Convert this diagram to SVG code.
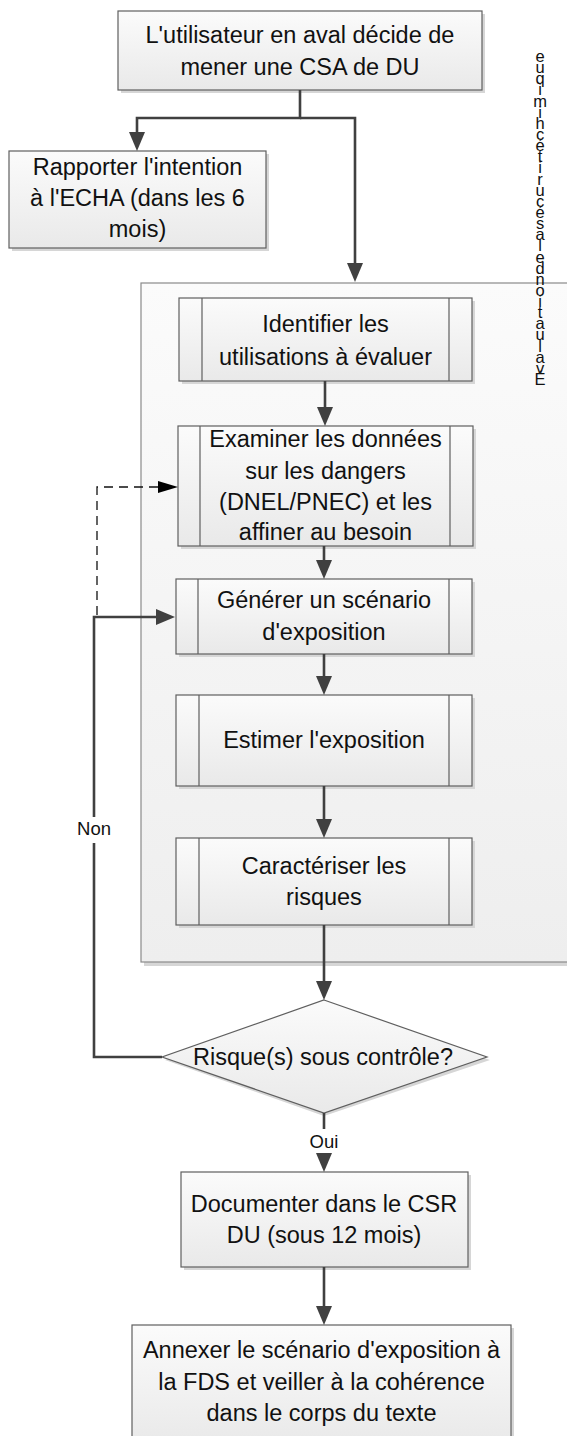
<svg xmlns="http://www.w3.org/2000/svg" width="567" height="1436" viewBox="0 0 567 1436">
<style>
.box{stroke:#5f5f5f;stroke-width:1.2;fill:url(#g)}
.sh{fill:#d6d6d6}
.inner{stroke:#5f5f5f;stroke-width:1.2;fill:none}
.t{font-family:"Liberation Sans",Arial,sans-serif;font-size:23.5px;fill:#111;text-anchor:middle}
.lbl{font-family:"Liberation Sans",Arial,sans-serif;font-size:18.5px;fill:#111;text-anchor:middle}
.vt{font-family:"Liberation Sans",Arial,sans-serif;font-size:16.5px;fill:#111;text-anchor:middle}
.c{fill:none;stroke:#404040;stroke-width:2.6}
.d{fill:none;stroke:#111;stroke-width:1.3;stroke-dasharray:9 6}
</style>
<defs>
<linearGradient id="g" x1="0" y1="0" x2="0" y2="1">
<stop offset="0" stop-color="#fbfbfb"/>
<stop offset="1" stop-color="#e9e9e9"/>
</linearGradient>
<linearGradient id="gc" x1="0" y1="0" x2="0" y2="1">
<stop offset="0" stop-color="#fbfbfb"/>
<stop offset="1" stop-color="#eeeeee"/>
</linearGradient>
<marker id="ah" viewBox="0 0 19 16" refX="9" refY="8" markerWidth="19" markerHeight="16" orient="auto" markerUnits="userSpaceOnUse">
<path d="M0,0 L19,8 L0,16 z" fill="#404040"/>
</marker>
<marker id="ahd" viewBox="0 0 20 12" refX="10" refY="6" markerWidth="20" markerHeight="12" orient="auto" markerUnits="userSpaceOnUse">
<path d="M0,0 L20,6 L0,12 z" fill="#000"/>
</marker>
</defs>
<rect width="567" height="1436" fill="#fff"/>

<g id="container">
<rect x="144" y="286" width="440" height="680" class="sh" fill="#dcdcdc"/>
<rect x="141" y="283" width="440" height="679" fill="url(#gc)" stroke="#8a8a8a" stroke-width="1.2"/>
<text class="vt" x="540 540 540 540 540 540 540 540 540 540 540 540 540 540 540 540 540 540 540 540 540 540 540 540 540 540 540 540 540 540 540 540 540 540" y="385 373.9 362.7 351.6 340.4 329.3 318.2 307 295.9 284.7 284.7 273.6 262.5 262.5 251.3 240.2 240.2 229 217.9 206.8 195.6 184.5 173.3 162.2 151.1 151.1 139.9 128.8 117.6 106.5 95.4 84.2 73.1 61.9">Évaluation de la sécurité chimique</text>
</g>

<g id="n-start">
<rect x="121" y="14" width="364" height="79" class="sh"/>
<rect x="118" y="11" width="364" height="79" class="box"/>
<text class="t" x="300" y="42.5">L'utilisateur en aval décide de</text>
<text class="t" x="300" y="74.5">mener une CSA de DU</text>
</g>

<g id="n-report">
<rect x="12" y="154" width="257" height="97" class="sh"/>
<rect x="9" y="151" width="257" height="97" class="box"/>
<text class="t" x="137.5" y="175">Rapporter l'intention</text>
<text class="t" x="137.5" y="206">à l'ECHA (dans les 6</text>
<text class="t" x="137.5" y="237">mois)</text>
</g>

<g id="n-identify">
<rect x="182" y="301" width="293" height="83" class="sh"/>
<rect x="179" y="298" width="293" height="83" class="box"/>
<path d="M202,298 V381 M449,298 V381" class="inner"/>
<text class="t" x="325.5" y="332">Identifier les</text>
<text class="t" x="325.5" y="365">utilisations à évaluer</text>
</g>

<g id="n-hazard">
<rect x="181" y="429" width="295" height="120" class="sh"/>
<rect x="178" y="426" width="295" height="120" class="box"/>
<path d="M200,426 V546 M450,426 V546" class="inner"/>
<text class="t" x="325.5" y="447">Examiner les données</text>
<text class="t" x="325.5" y="479">sur les dangers</text>
<text class="t" x="325.5" y="510">(DNEL/PNEC) et les</text>
<text class="t" x="325.5" y="540">affiner au besoin</text>
</g>

<g id="n-scenario">
<rect x="179" y="582" width="296" height="75" class="sh"/>
<rect x="176" y="579" width="296" height="75" class="box"/>
<path d="M198,579 V654 M449,579 V654" class="inner"/>
<text class="t" x="324" y="608">Générer un scénario</text>
<text class="t" x="324" y="640">d'exposition</text>
</g>

<g id="n-estimate">
<rect x="179" y="698" width="296" height="91" class="sh"/>
<rect x="176" y="695" width="296" height="91" class="box"/>
<path d="M199,695 V786 M449,695 V786" class="inner"/>
<text class="t" x="324" y="748">Estimer l'exposition</text>
</g>

<g id="n-risk">
<rect x="179" y="841" width="296" height="87" class="sh"/>
<rect x="176" y="838" width="296" height="87" class="box"/>
<path d="M199,838 V925 M449,838 V925" class="inner"/>
<text class="t" x="324" y="874">Caractériser les</text>
<text class="t" x="324" y="905">risques</text>
</g>

<g id="n-decision">
<path d="M324,1003 L490,1060 L324,1116 L165,1060 z" class="sh"/>
<path d="M324,1000 L487,1057 L324,1113 L162,1057 z" class="box"/>
<text class="t" x="323" y="1065">Risque(s) sous contrôle?</text>
</g>

<g id="n-document">
<rect x="184" y="1175" width="287" height="95" class="sh"/>
<rect x="181" y="1172" width="287" height="95" class="box"/>
<text class="t" x="324" y="1212">Documenter dans le CSR</text>
<text class="t" x="324" y="1243">DU (sous 12 mois)</text>
</g>

<g id="n-annex">
<rect x="135" y="1328" width="379" height="120" class="sh"/>
<rect x="132" y="1325" width="379" height="120" class="box"/>
<text class="t" x="321.5" y="1358">Annexer le scénario d'exposition à</text>
<text class="t" x="321.5" y="1390">la FDS et veiller à la cohérence</text>
<text class="t" x="321.5" y="1421">dans le corps du texte</text>
</g>

<g id="connectors">
<path d="M300,90 V118 H137 V141" class="c" marker-end="url(#ah)"/>
<path d="M300,118 H355 V272" class="c" marker-end="url(#ah)"/>
<path d="M325,381 V416" class="c" marker-end="url(#ah)"/>
<path d="M324,546 V569" class="c" marker-end="url(#ah)"/>
<path d="M324,654 V685" class="c" marker-end="url(#ah)"/>
<path d="M324,786 V828" class="c" marker-end="url(#ah)"/>
<path d="M324,925 V990" class="c" marker-end="url(#ah)"/>
<path d="M324,1113 V1162" class="c" marker-end="url(#ah)"/>
<path d="M324,1267 V1315" class="c" marker-end="url(#ah)"/>
<path d="M97,615 V487 H168" class="d" marker-end="url(#ahd)"/>
<path d="M162,1057 H94 V617 H165" class="c" marker-end="url(#ah)"/>
<rect x="74" y="817" width="40" height="26" fill="#fff"/>
<text class="lbl" x="94" y="835">Non</text>
<rect x="306" y="1129" width="36" height="24" fill="#fff"/>
<text class="lbl" x="324" y="1148">Oui</text>
</g>
</svg>
